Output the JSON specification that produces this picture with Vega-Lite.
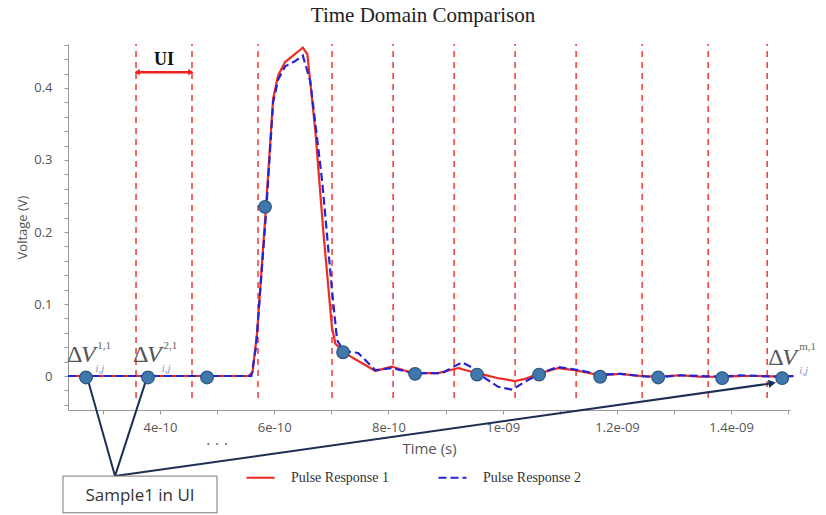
{
  "$schema": "https://vega.github.io/schema/vega-lite/v6.json",
  "width": 722,
  "height": 366,
  "autosize": {"type": "none"},
  "padding": {"left": 68, "top": 44, "right": 36, "bottom": 105},
  "background": "white",
  "title": {"text": "Time Domain Comparison", "font": "Liberation Serif", "fontSize": 21, "fontWeight": "normal", "color": "#222", "offset": 13, "dx": -6},
  "config": {"view": {"stroke": null}, "axis": {"grid": false}},
  "datasets": {
    "curves": [
      {"time": 2.39e-10, "voltage": 0, "series": "Pulse Response 1"},
      {"time": 5.55e-10, "voltage": 0, "series": "Pulse Response 1"},
      {"time": 5.62e-10, "voltage": 0.005, "series": "Pulse Response 1"},
      {"time": 5.70e-10, "voltage": 0.06, "series": "Pulse Response 1"},
      {"time": 5.86e-10, "voltage": 0.24, "series": "Pulse Response 1"},
      {"time": 5.98e-10, "voltage": 0.385, "series": "Pulse Response 1"},
      {"time": 6.07e-10, "voltage": 0.418, "series": "Pulse Response 1"},
      {"time": 6.19e-10, "voltage": 0.436, "series": "Pulse Response 1"},
      {"time": 6.36e-10, "voltage": 0.447, "series": "Pulse Response 1"},
      {"time": 6.50e-10, "voltage": 0.456, "series": "Pulse Response 1"},
      {"time": 6.58e-10, "voltage": 0.447, "series": "Pulse Response 1"},
      {"time": 6.72e-10, "voltage": 0.34, "series": "Pulse Response 1"},
      {"time": 6.86e-10, "voltage": 0.20, "series": "Pulse Response 1"},
      {"time": 7.01e-10, "voltage": 0.068, "series": "Pulse Response 1"},
      {"time": 7.07e-10, "voltage": 0.045, "series": "Pulse Response 1"},
      {"time": 7.21e-10, "voltage": 0.033, "series": "Pulse Response 1"},
      {"time": 7.47e-10, "voltage": 0.021, "series": "Pulse Response 1"},
      {"time": 7.77e-10, "voltage": 0.007, "series": "Pulse Response 1"},
      {"time": 8.06e-10, "voltage": 0.013, "series": "Pulse Response 1"},
      {"time": 8.43e-10, "voltage": 0.004, "series": "Pulse Response 1"},
      {"time": 8.87e-10, "voltage": 0.004, "series": "Pulse Response 1"},
      {"time": 9.22e-10, "voltage": 0.011, "series": "Pulse Response 1"},
      {"time": 9.55e-10, "voltage": 0.004, "series": "Pulse Response 1"},
      {"time": 9.92e-10, "voltage": -0.003, "series": "Pulse Response 1"},
      {"time": 10.22e-10, "voltage": -0.007, "series": "Pulse Response 1"},
      {"time": 10.39e-10, "voltage": -0.004, "series": "Pulse Response 1"},
      {"time": 10.66e-10, "voltage": 0.004, "series": "Pulse Response 1"},
      {"time": 10.97e-10, "voltage": 0.011, "series": "Pulse Response 1"},
      {"time": 11.27e-10, "voltage": 0.008, "series": "Pulse Response 1"},
      {"time": 11.71e-10, "voltage": 0.001, "series": "Pulse Response 1"},
      {"time": 12.06e-10, "voltage": 0.003, "series": "Pulse Response 1"},
      {"time": 12.41e-10, "voltage": 0.0, "series": "Pulse Response 1"},
      {"time": 12.72e-10, "voltage": -0.001, "series": "Pulse Response 1"},
      {"time": 13.11e-10, "voltage": 0.001, "series": "Pulse Response 1"},
      {"time": 13.46e-10, "voltage": -0.001, "series": "Pulse Response 1"},
      {"time": 13.84e-10, "voltage": -0.001, "series": "Pulse Response 1"},
      {"time": 14.16e-10, "voltage": 0.0, "series": "Pulse Response 1"},
      {"time": 14.51e-10, "voltage": 0.0, "series": "Pulse Response 1"},
      {"time": 14.89e-10, "voltage": -0.001, "series": "Pulse Response 1"},
      {"time": 15.09e-10, "voltage": 0.0, "series": "Pulse Response 1"},
      {"time": 2.39e-10, "voltage": 0, "series": "Pulse Response 2"},
      {"time": 5.60e-10, "voltage": 0, "series": "Pulse Response 2"},
      {"time": 5.68e-10, "voltage": 0.04, "series": "Pulse Response 2"},
      {"time": 5.86e-10, "voltage": 0.23, "series": "Pulse Response 2"},
      {"time": 5.98e-10, "voltage": 0.38, "series": "Pulse Response 2"},
      {"time": 6.07e-10, "voltage": 0.412, "series": "Pulse Response 2"},
      {"time": 6.19e-10, "voltage": 0.43, "series": "Pulse Response 2"},
      {"time": 6.36e-10, "voltage": 0.437, "series": "Pulse Response 2"},
      {"time": 6.50e-10, "voltage": 0.445, "series": "Pulse Response 2"},
      {"time": 6.63e-10, "voltage": 0.41, "series": "Pulse Response 2"},
      {"time": 6.84e-10, "voltage": 0.27, "series": "Pulse Response 2"},
      {"time": 7.01e-10, "voltage": 0.12, "series": "Pulse Response 2"},
      {"time": 7.10e-10, "voltage": 0.05, "series": "Pulse Response 2"},
      {"time": 7.21e-10, "voltage": 0.035, "series": "Pulse Response 2"},
      {"time": 7.47e-10, "voltage": 0.032, "series": "Pulse Response 2"},
      {"time": 7.77e-10, "voltage": 0.008, "series": "Pulse Response 2"},
      {"time": 8.06e-10, "voltage": 0.011, "series": "Pulse Response 2"},
      {"time": 8.43e-10, "voltage": 0.004, "series": "Pulse Response 2"},
      {"time": 8.94e-10, "voltage": 0.004, "series": "Pulse Response 2"},
      {"time": 9.13e-10, "voltage": 0.0125, "series": "Pulse Response 2"},
      {"time": 9.29e-10, "voltage": 0.019, "series": "Pulse Response 2"},
      {"time": 9.46e-10, "voltage": 0.012, "series": "Pulse Response 2"},
      {"time": 9.69e-10, "voltage": -0.003, "series": "Pulse Response 2"},
      {"time": 9.92e-10, "voltage": -0.015, "series": "Pulse Response 2"},
      {"time": 10.17e-10, "voltage": -0.019, "series": "Pulse Response 2"},
      {"time": 10.39e-10, "voltage": -0.008, "series": "Pulse Response 2"},
      {"time": 10.66e-10, "voltage": 0.004, "series": "Pulse Response 2"},
      {"time": 10.97e-10, "voltage": 0.0125, "series": "Pulse Response 2"},
      {"time": 11.27e-10, "voltage": 0.009, "series": "Pulse Response 2"},
      {"time": 11.71e-10, "voltage": 0.002, "series": "Pulse Response 2"},
      {"time": 12.06e-10, "voltage": 0.003, "series": "Pulse Response 2"},
      {"time": 12.41e-10, "voltage": 0.0, "series": "Pulse Response 2"},
      {"time": 12.72e-10, "voltage": -0.002, "series": "Pulse Response 2"},
      {"time": 13.11e-10, "voltage": 0.001, "series": "Pulse Response 2"},
      {"time": 13.46e-10, "voltage": 0.0, "series": "Pulse Response 2"},
      {"time": 13.84e-10, "voltage": -0.001, "series": "Pulse Response 2"},
      {"time": 14.16e-10, "voltage": 0.001, "series": "Pulse Response 2"},
      {"time": 14.51e-10, "voltage": 0.0, "series": "Pulse Response 2"},
      {"time": 14.89e-10, "voltage": -0.001, "series": "Pulse Response 2"},
      {"time": 15.09e-10, "voltage": 0.0, "series": "Pulse Response 2"}
    ],
    "samples": [
      {"time": 2.704e-10, "voltage": -0.002},
      {"time": 3.790e-10, "voltage": -0.002},
      {"time": 4.823e-10, "voltage": -0.002},
      {"time": 5.839e-10, "voltage": 0.235},
      {"time": 7.205e-10, "voltage": 0.033},
      {"time": 8.466e-10, "voltage": 0.003},
      {"time": 9.552e-10, "voltage": 0.002},
      {"time": 10.637e-10, "voltage": 0.002},
      {"time": 11.706e-10, "voltage": -0.001},
      {"time": 12.722e-10, "voltage": -0.002},
      {"time": 13.842e-10, "voltage": -0.003},
      {"time": 14.893e-10, "voltage": -0.003}
    ],
    "boundaries": [
      {"time": 3.580e-10}, {"time": 4.560e-10}, {"time": 5.716e-10}, {"time": 7.012e-10},
      {"time": 8.081e-10}, {"time": 9.149e-10}, {"time": 10.217e-10}, {"time": 11.285e-10},
      {"time": 12.441e-10}, {"time": 13.597e-10}, {"time": 14.630e-10}
    ],
    "leaders": [
      {"time": 3.212e-10, "voltage": -0.139, "time2": 2.739e-10, "voltage2": -0.006},
      {"time": 3.212e-10, "voltage": -0.139, "time2": 3.755e-10, "voltage2": -0.006},
      {"time": 3.212e-10, "voltage": -0.139, "time2": 14.718e-10, "voltage2": -0.010}
    ]
  },
  "layer": [
    {
      "data": {"name": "boundaries"},
      "mark": {"type": "rule", "color": "#f22a2a", "strokeWidth": 1.4, "strokeDash": [6, 5]},
      "encoding": {
        "x": {"field": "time", "type": "quantitative", "scale": {"domain": [2.389e-10, 15.03e-10], "nice": false, "zero": false}},
        "y": {"datum": -0.0306, "type": "quantitative", "scale": {"domain": [-0.0472, 0.4611], "nice": false, "zero": false}},
        "y2": {"datum": 0.4611}
      }
    },
    {
      "data": {"name": "curves"},
      "mark": {"type": "line", "strokeWidth": 2.2},
      "encoding": {
        "x": {
          "field": "time", "type": "quantitative",
          "scale": {"domain": [2.389e-10, 15.03e-10], "nice": false, "zero": false},
          "axis": {
            "title": "Time (s)",
            "values": [3e-10, 4e-10, 5e-10, 6e-10, 7e-10, 8e-10, 9e-10, 10e-10, 11e-10, 12e-10, 13e-10, 14e-10, 15e-10],
            "tickCount": 30,
            "labelExpr": "round(datum.value*1e10) % 2 == 0 ? replace(format(datum.value, '.2~e'), 'e-9', 'e-09') : ''",
            "domainColor": "#999", "tickColor": "#999", "tickSize": 4,
            "labelFont": "Open Sans", "labelFontSize": 13, "labelColor": "#555", "labelPadding": 7,
            "labelFlush": false, "labelOverlap": false,
            "titleFont": "Open Sans", "titleFontSize": 15, "titleFontWeight": "normal", "titleColor": "#555", "titlePadding": 7
          }
        },
        "y": {
          "field": "voltage", "type": "quantitative",
          "scale": {"domain": [-0.0472, 0.4611], "nice": false, "zero": false},
          "axis": {
            "title": "Voltage (V)",
            "values": [-0.04, -0.02, 0, 0.02, 0.04, 0.06, 0.08, 0.1, 0.12, 0.14, 0.16, 0.18, 0.2, 0.22, 0.24, 0.26, 0.28, 0.3, 0.32, 0.34, 0.36, 0.38, 0.4, 0.42, 0.44, 0.46],
            "tickCount": 30,
            "labelExpr": "abs(datum.value*10 - round(datum.value*10)) < 0.001 ? format(datum.value, '~g') : ''",
            "domainColor": "#999", "tickColor": "#999", "tickSize": 4,
            "labelFont": "Open Sans", "labelFontSize": 13, "labelColor": "#555", "labelPadding": 12,
            "labelOverlap": false, "labelFlush": false,
            "titleFont": "Open Sans", "titleFontSize": 13, "titleFontWeight": "normal", "titleColor": "#555", "titlePadding": 4
          }
        },
        "color": {
          "field": "series", "type": "nominal",
          "scale": {"domain": ["Pulse Response 1", "Pulse Response 2"], "range": ["#ee2a24", "#2424d4"]},
          "legend": {
            "title": null, "orient": "none", "legendX": 177, "legendY": 418, "direction": "horizontal",
            "symbolType": "stroke", "symbolSize": 784, "symbolStrokeWidth": 2.2,
            "labelFont": "Liberation Serif", "labelFontSize": 14, "labelColor": "#333",
            "labelOffset": 15, "columnPadding": 45, "labelLimit": 300
          }
        },
        "strokeDash": {
          "field": "series", "type": "nominal",
          "scale": {"domain": ["Pulse Response 1", "Pulse Response 2"], "range": [[1, 0], [8, 4]]},
          "legend": {
            "title": null, "orient": "none", "legendX": 177, "legendY": 418, "direction": "horizontal",
            "symbolType": "stroke", "symbolSize": 784, "symbolStrokeWidth": 2.2,
            "labelFont": "Liberation Serif", "labelFontSize": 14, "labelColor": "#333",
            "labelOffset": 15, "columnPadding": 45, "labelLimit": 300
          }
        }
      }
    },
    {
      "data": {"name": "leaders"},
      "mark": {"type": "rule", "color": "#1e2f55", "strokeWidth": 2},
      "encoding": {
        "x": {"field": "time", "type": "quantitative", "scale": {"domain": [2.389e-10, 15.03e-10], "nice": false, "zero": false}},
        "y": {"field": "voltage", "type": "quantitative", "scale": {"domain": [-0.0472, 0.4611], "nice": false, "zero": false}},
        "x2": {"field": "time2"},
        "y2": {"field": "voltage2"}
      }
    },
    {
      "data": {"values": [{"time": 14.718e-10, "voltage": -0.010}]},
      "mark": {"type": "point", "shape": "triangle-right", "size": 70, "filled": true, "color": "#1e2f55", "opacity": 1, "angle": -9.4},
      "encoding": {
        "x": {"field": "time", "type": "quantitative", "scale": {"domain": [2.389e-10, 15.03e-10], "nice": false, "zero": false}},
        "y": {"field": "voltage", "type": "quantitative", "scale": {"domain": [-0.0472, 0.4611], "nice": false, "zero": false}}
      }
    },
    {
      "data": {"name": "samples"},
      "mark": {"type": "circle", "size": 160, "color": "#4078ad", "opacity": 1, "stroke": "#2a5580", "strokeWidth": 1.2},
      "encoding": {
        "x": {"field": "time", "type": "quantitative", "scale": {"domain": [2.389e-10, 15.03e-10], "nice": false, "zero": false}},
        "y": {"field": "voltage", "type": "quantitative", "scale": {"domain": [-0.0472, 0.4611], "nice": false, "zero": false}}
      }
    },
    {
      "data": {"values": [{"time": 3.580e-10, "voltage": 0.422, "time2": 4.560e-10}]},
      "mark": {"type": "rule", "color": "#ee2020", "strokeWidth": 2.5},
      "encoding": {
        "x": {"field": "time", "type": "quantitative", "scale": {"domain": [2.389e-10, 15.03e-10], "nice": false, "zero": false}},
        "y": {"field": "voltage", "type": "quantitative", "scale": {"domain": [-0.0472, 0.4611], "nice": false, "zero": false}},
        "x2": {"field": "time2"}
      }
    },
    {
      "data": {"values": [{"time": 3.60e-10, "voltage": 0.422, "end": "left"}, {"time": 4.54e-10, "voltage": 0.422, "end": "right"}]},
      "mark": {"type": "point", "size": 40, "filled": true, "color": "#ee2020", "opacity": 1},
      "encoding": {
        "x": {"field": "time", "type": "quantitative", "scale": {"domain": [2.389e-10, 15.03e-10], "nice": false, "zero": false}},
        "y": {"field": "voltage", "type": "quantitative", "scale": {"domain": [-0.0472, 0.4611], "nice": false, "zero": false}},
        "shape": {"field": "end", "type": "nominal", "scale": {"domain": ["left", "right"], "range": ["triangle-left", "triangle-right"]}, "legend": null}
      }
    },
    {
      "data": {"values": [{"time": 4.07e-10, "voltage": 0.432, "label": "UI"}]},
      "mark": {"type": "text", "font": "Liberation Serif", "fontSize": 18, "fontWeight": "bold", "color": "#111", "align": "center", "baseline": "alphabetic"},
      "encoding": {
        "x": {"field": "time", "type": "quantitative", "scale": {"domain": [2.389e-10, 15.03e-10], "nice": false, "zero": false}},
        "y": {"field": "voltage", "type": "quantitative", "scale": {"domain": [-0.0472, 0.4611], "nice": false, "zero": false}},
        "text": {"field": "label"}
      }
    },
    {
      "data": {"values": [
        {"time": 2.371e-10, "voltage": 0.019, "label": "Δ"},
        {"time": 3.527e-10, "voltage": 0.019, "label": "Δ"},
        {"time": 14.648e-10, "voltage": 0.015, "label": "Δ"}
      ]},
      "mark": {"type": "text", "font": "Liberation Serif", "fontSize": 24, "color": "#555", "align": "left", "baseline": "alphabetic"},
      "encoding": {
        "x": {"field": "time", "type": "quantitative", "scale": {"domain": [2.389e-10, 15.03e-10], "nice": false, "zero": false}},
        "y": {"field": "voltage", "type": "quantitative", "scale": {"domain": [-0.0472, 0.4611], "nice": false, "zero": false}},
        "text": {"field": "label"}
      }
    },
    {
      "data": {"values": [
        {"time": 2.616e-10, "voltage": 0.019, "label": "V"},
        {"time": 3.772e-10, "voltage": 0.019, "label": "V"},
        {"time": 14.893e-10, "voltage": 0.015, "label": "V"}
      ]},
      "mark": {"type": "text", "font": "Liberation Serif", "fontSize": 24, "fontStyle": "italic", "color": "#555", "align": "left", "baseline": "alphabetic"},
      "encoding": {
        "x": {"field": "time", "type": "quantitative", "scale": {"domain": [2.389e-10, 15.03e-10], "nice": false, "zero": false}},
        "y": {"field": "voltage", "type": "quantitative", "scale": {"domain": [-0.0472, 0.4611], "nice": false, "zero": false}},
        "text": {"field": "label"}
      }
    },
    {
      "data": {"values": [
        {"time": 2.90e-10, "voltage": 0.0375, "label": "1,1"},
        {"time": 4.06e-10, "voltage": 0.0375, "label": "2,1"},
        {"time": 15.19e-10, "voltage": 0.036, "label": "m,1"}
      ]},
      "mark": {"type": "text", "font": "Liberation Serif", "fontSize": 11, "color": "#666", "align": "left", "baseline": "alphabetic"},
      "encoding": {
        "x": {"field": "time", "type": "quantitative", "scale": {"domain": [2.389e-10, 15.03e-10], "nice": false, "zero": false}},
        "y": {"field": "voltage", "type": "quantitative", "scale": {"domain": [-0.0472, 0.4611], "nice": false, "zero": false}},
        "text": {"field": "label"}
      }
    },
    {
      "data": {"values": [
        {"time": 2.87e-10, "voltage": 0.006, "label": "i,j"},
        {"time": 4.03e-10, "voltage": 0.006, "label": "i,j"},
        {"time": 15.19e-10, "voltage": 0.003, "label": "i,j"}
      ]},
      "mark": {"type": "text", "font": "Liberation Serif", "fontSize": 11, "fontStyle": "italic", "color": "#7f93cc", "align": "left", "baseline": "alphabetic"},
      "encoding": {
        "x": {"field": "time", "type": "quantitative", "scale": {"domain": [2.389e-10, 15.03e-10], "nice": false, "zero": false}},
        "y": {"field": "voltage", "type": "quantitative", "scale": {"domain": [-0.0472, 0.4611], "nice": false, "zero": false}},
        "text": {"field": "label"}
      }
    },
    {
      "data": {"values": [{"time": 4.998e-10, "voltage": -0.089, "label": ". . ."}]},
      "mark": {"type": "text", "font": "Liberation Sans", "fontSize": 16, "color": "#555", "align": "center", "baseline": "middle"},
      "encoding": {
        "x": {"field": "time", "type": "quantitative", "scale": {"domain": [2.389e-10, 15.03e-10], "nice": false, "zero": false}},
        "y": {"field": "voltage", "type": "quantitative", "scale": {"domain": [-0.0472, 0.4611], "nice": false, "zero": false}},
        "text": {"field": "label"}
      }
    },
    {
      "data": {"values": [{"time": 2.301e-10, "voltage": -0.139, "time2": 4.998e-10, "voltage2": -0.190}]},
      "mark": {"type": "rect", "fill": "white", "stroke": "#777", "strokeWidth": 1},
      "encoding": {
        "x": {"field": "time", "type": "quantitative", "scale": {"domain": [2.389e-10, 15.03e-10], "nice": false, "zero": false}},
        "y": {"field": "voltage", "type": "quantitative", "scale": {"domain": [-0.0472, 0.4611], "nice": false, "zero": false}},
        "x2": {"field": "time2"},
        "y2": {"field": "voltage2"}
      }
    },
    {
      "data": {"values": [{"time": 3.65e-10, "voltage": -0.166, "label": "Sample1 in UI"}]},
      "mark": {"type": "text", "font": "Open Sans", "fontSize": 17, "color": "#333", "align": "center", "baseline": "middle"},
      "encoding": {
        "x": {"field": "time", "type": "quantitative", "scale": {"domain": [2.389e-10, 15.03e-10], "nice": false, "zero": false}},
        "y": {"field": "voltage", "type": "quantitative", "scale": {"domain": [-0.0472, 0.4611], "nice": false, "zero": false}},
        "text": {"field": "label"}
      }
    }
  ]
}
